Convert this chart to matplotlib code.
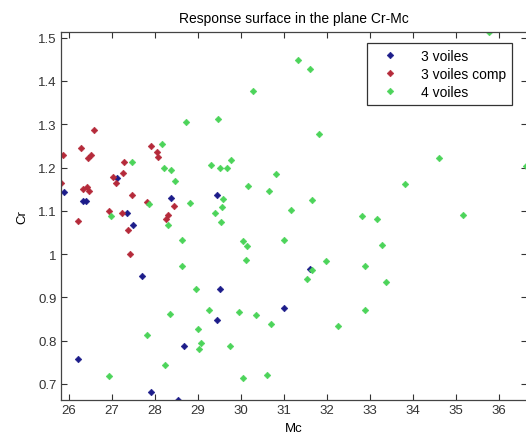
"""Scatter of the response surface in the Cr-Mc plane for three wall layouts."""
import matplotlib
matplotlib.use('Agg')
import matplotlib.pyplot as plt

# 3 voiles
mc_3v = [25.88, 26.20, 26.32, 26.38, 27.11, 27.34, 27.48, 27.70, 27.90, 28.37,
         28.53, 28.68, 29.43, 29.50, 29.43, 31.00, 31.61]
cr_3v = [1.144, 0.757, 1.123, 1.123, 1.176, 1.095, 1.068, 0.949, 0.681, 1.130,
         0.663, 0.788, 1.137, 0.919, 0.848, 0.876, 0.966]

# 3 voiles comp
mc_3vc = [25.81, 25.85, 26.27, 26.58, 26.43, 26.50, 26.33, 26.42, 26.47, 27.03,
          27.08, 27.25, 27.28, 27.45, 26.92, 27.23, 27.82, 27.90, 28.04, 28.07,
          28.44, 28.30, 26.20, 27.37, 27.42, 28.25]
cr_3vc = [1.165, 1.228, 1.245, 1.287, 1.222, 1.230, 1.150, 1.155, 1.145, 1.179,
          1.165, 1.187, 1.212, 1.136, 1.100, 1.096, 1.121, 1.249, 1.235, 1.225,
          1.110, 1.090, 1.077, 1.056, 1.000, 1.080]

# 4 voiles
mc_4v = [27.47, 26.97, 28.17, 28.21, 28.37, 28.47, 28.82, 28.72, 29.47, 29.30,
         29.51, 29.67, 29.77, 30.15, 30.28, 29.57, 29.55, 29.39, 29.52, 35.77,
         31.33, 31.61, 31.82, 34.61, 30.82, 30.65, 31.64, 31.15, 33.81, 32.82,
         33.17, 35.15, 36.62, 28.63, 28.63, 28.30, 28.96, 28.35, 29.25, 29.00,
         29.07, 29.02, 27.81, 28.22, 26.93, 29.94, 29.74, 30.04, 30.35, 30.04,
         30.14, 30.11, 31.00, 31.98, 31.64, 31.52, 32.87, 33.28, 33.38, 32.88,
         32.26, 30.70, 30.60, 27.85]
cr_4v = [1.212, 1.088, 1.254, 1.200, 1.194, 1.169, 1.118, 1.306, 1.311, 1.205,
         1.200, 1.200, 1.217, 1.158, 1.376, 1.128, 1.108, 1.096, 1.075, 1.513,
         1.449, 1.428, 1.278, 1.222, 1.185, 1.145, 1.125, 1.103, 1.162, 1.088,
         1.080, 1.091, 1.204, 1.033, 0.973, 1.067, 0.919, 0.862, 0.871, 0.827,
         0.795, 0.781, 0.813, 0.744, 0.719, 0.867, 0.788, 0.714, 0.859, 1.030,
         1.019, 0.987, 1.032, 0.984, 0.964, 0.943, 0.973, 1.022, 0.936, 0.871,
         0.834, 0.839, 0.721, 1.115]

x_ticks = [26, 27, 28, 29, 30, 31, 32, 33, 34, 35, 36]
y_ticks = [0.7, 0.8, 0.9, 1.0, 1.1, 1.2, 1.3, 1.4, 1.5]

plt.rcParams['font.family'] = ['Liberation Sans', 'DejaVu Sans']

fig = plt.figure(figsize=(5.26, 4.39), dpi=100)
ax = fig.add_axes([0.116, 0.0866, 0.886, 0.8382])

marker_kw = dict(linestyle='none', marker='D', markersize=3.4, markeredgewidth=0.4)
ax.plot(mc_3v, cr_3v, color='#1c1c8a', label='3 voiles', **marker_kw)
ax.plot(mc_3vc, cr_3vc, color='#b52a3a', label='3 voiles comp', **marker_kw)
ax.plot(mc_4v, cr_4v, color='#4cd45a', label='4 voiles', **marker_kw)

all_x = mc_3v + mc_3vc + mc_4v
all_y = cr_3v + cr_3vc + cr_4v
ax.set_xlim(min(all_x), max(all_x) + 0.03)
ax.set_ylim(min(all_y), max(all_y))

ax.set_xticks(x_ticks)
ax.set_yticks(y_ticks)
ax.set_yticklabels(['0.7', '0.8', '0.9', '1', '1.1', '1.2', '1.3', '1.4', '1.5'])
ax.tick_params(direction='in', length=4, width=0.8, top=True, right=True,
               labelsize=9.5, colors='#333333', labelcolor='#333333', pad=3)
for spine in ax.spines.values():
    spine.set_color('#444444')
    spine.set_linewidth(0.9)

ax.set_xlabel('Mc', fontsize=9.5, labelpad=4)
ax.set_ylabel('Cr', fontsize=9.5, labelpad=7)
ax.set_title('Response surface in the plane Cr-Mc', fontsize=10, pad=7)

leg = ax.legend(loc='upper right', bbox_to_anchor=(0.983, 0.99), fontsize=10,
                fancybox=False, framealpha=1, edgecolor='#333333',
                handlelength=2.4, handletextpad=1.0, borderpad=0.45,
                labelspacing=0.3, markerscale=1.0)
leg.get_frame().set_linewidth(0.9)

fig.savefig('out.png', dpi=100)
